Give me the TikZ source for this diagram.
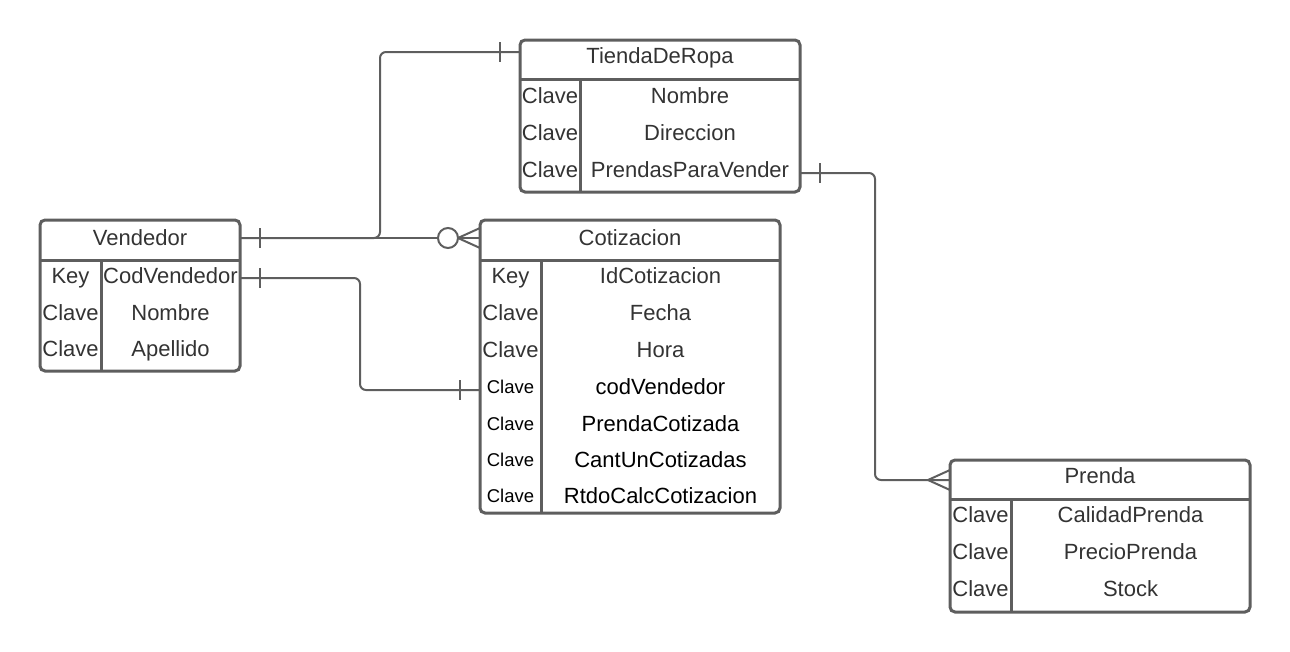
\documentclass[tikz,border=0pt]{standalone}
\usepackage{fontspec}
\setmainfont{Liberation Sans}
\definecolor{erline}{RGB}{94,94,94}
\definecolor{ertext}{RGB}{51,51,51}

\begin{document}
\begin{tikzpicture}[
    x=1pt, y=-1pt,
    tbl/.style={draw=erline, line width=3pt, rounded corners=5pt, inner sep=0pt, outer sep=0pt},
    sep/.style={draw=erline, line width=3pt},
    conn/.style={draw=erline, line width=2pt, rounded corners=6pt},
    txt/.style={text=ertext, font=\fontsize{22}{26}\selectfont, inner sep=0pt, text height=15.75pt, text depth=0pt},
    dtxt/.style={txt, text=black},
    keysm/.style={txt, text=black, font=\fontsize{18.5}{22}\selectfont, text height=13.2pt}
]
\useasboundingbox (0,0) rectangle (1290,651);

% TiendaDeRopa
\node[tbl, minimum width=280pt, minimum height=152pt] (tienda) at (660,116) {};
\draw[sep] ([yshift=-39pt]tienda.north west) -- ([yshift=-39pt]tienda.north east);
\draw[sep] ([xshift=60pt,yshift=-39pt]tienda.north west) -- ([xshift=60pt]tienda.south west);
\node[txt] (tiendaT) at (660,56) {TiendaDeRopa};
\node[txt] (tiendaK1) at (550,96) {Clave};
\node[txt] (tiendaK2) at (550,133) {Clave};
\node[txt] (tiendaK3) at (550,170) {Clave};
\node[txt] (tiendaF1) at (690,96) {Nombre};
\node[txt] (tiendaF2) at (690,133) {Direccion};
\node[txt] (tiendaF3) at (690,170) {PrendasParaVender};

% Vendedor
\node[tbl, minimum width=200pt, minimum height=151pt] (vend) at (140,295.5) {};
\draw[sep] ([yshift=-40pt]vend.north west) -- ([yshift=-40pt]vend.north east);
\draw[sep] ([xshift=61pt,yshift=-40pt]vend.north west) -- ([xshift=61pt]vend.south west);
\node[txt] (vendT) at (140,237.5) {Vendedor};
\node[txt] (vendK1) at (70.5,276) {Key};
\node[txt] (vendK2) at (70.5,312.5) {Clave};
\node[txt] (vendK3) at (70.5,348.5) {Clave};
\node[txt] (vendF1) at (170.5,276) {CodVendedor};
\node[txt] (vendF2) at (170.5,312.5) {Nombre};
\node[txt] (vendF3) at (170.5,348.5) {Apellido};

% Cotizacion
\node[tbl, minimum width=300pt, minimum height=293pt] (cotiz) at (630,366.5) {};
\draw[sep] ([yshift=-40pt]cotiz.north west) -- ([yshift=-40pt]cotiz.north east);
\draw[sep] ([xshift=61pt,yshift=-40pt]cotiz.north west) -- ([xshift=61pt]cotiz.south west);
\node[txt] (cotizT) at (630,237.5) {Cotizacion};
\node[txt] (cotizK1) at (510.5,276) {Key};
\node[txt] (cotizK2) at (510.5,313) {Clave};
\node[txt] (cotizK3) at (510.5,350) {Clave};
\node[keysm] (cotizK4) at (510.5,386.5) {Clave};
\node[keysm] (cotizK5) at (510.5,423.5) {Clave};
\node[keysm] (cotizK6) at (510.5,460) {Clave};
\node[keysm] (cotizK7) at (510.5,496) {Clave};
\node[txt] (cotizF1) at (660.5,276) {IdCotizacion};
\node[txt] (cotizF2) at (660.5,313) {Fecha};
\node[txt] (cotizF3) at (660.5,350) {Hora};
\node[dtxt] (cotizF4) at (660.5,386.5) {codVendedor};
\node[dtxt] (cotizF5) at (660.5,423.5) {PrendaCotizada};
\node[dtxt] (cotizF6) at (660.5,460) {CantUnCotizadas};
\node[dtxt] (cotizF7) at (660.5,496) {RtdoCalcCotizacion};

% Prenda
\node[tbl, minimum width=300pt, minimum height=152pt] (prenda) at (1100,536) {};
\draw[sep] ([yshift=-39pt]prenda.north west) -- ([yshift=-39pt]prenda.north east);
\draw[sep] ([xshift=61pt,yshift=-39pt]prenda.north west) -- ([xshift=61pt]prenda.south west);
\node[txt] (prendaT) at (1100,476) {Prenda};
\node[txt] (prendaK1) at (980.5,515) {Clave};
\node[txt] (prendaK2) at (980.5,552) {Clave};
\node[txt] (prendaK3) at (980.5,589) {Clave};
\node[txt] (prendaF1) at (1130.5,515) {CalidadPrenda};
\node[txt] (prendaF2) at (1130.5,552) {PrecioPrenda};
\node[txt] (prendaF3) at (1130.5,589) {Stock};

% Connector ends
\coordinate (vs1) at (vend.east |- 0,238);
\coordinate (ve1) at (tienda.west |- 0,52);
\coordinate (ce1) at (cotiz.west |- 0,238);
\coordinate (vs2) at (vend.east |- 0,278);
\coordinate (ve2) at (cotiz.west |- 0,390);
\coordinate (ts) at (tienda.east |- 0,173);
\coordinate (te) at (prenda.west |- 0,480);

% Vendedor - TiendaDeRopa
\draw[conn] (vs1) -- (380,238) -- (380,52) -- (ve1);
\draw[conn] ([xshift=20pt]vs1) +(0,-10) -- +(0,10);
\draw[conn] ([xshift=-20pt]ve1) +(0,-10) -- +(0,10);

% Vendedor - Cotizacion
\draw[conn] (vs1) -- (ce1);
\draw[conn, rounded corners=0pt] ([yshift=10pt]ce1) -- ([xshift=-22pt]ce1) -- ([yshift=-10pt]ce1);
\draw[conn, fill=white] ([xshift=-32pt]ce1) circle (10pt);

% CodVendedor - codVendedor
\draw[conn] (vs2) -| (360,334) |- (ve2);
\draw[conn] ([xshift=20pt]vs2) +(0,-10) -- +(0,10);
\draw[conn] ([xshift=-20pt]ve2) +(0,-10) -- +(0,10);

% TiendaDeRopa - Prenda
\draw[conn] (ts) -| (875,326) |- (te);
\draw[conn] ([xshift=20pt]ts) +(0,-10) -- +(0,10);
\draw[conn, rounded corners=0pt] ([yshift=10pt]te) -- ([xshift=-22pt]te) -- ([yshift=-10pt]te);

\end{tikzpicture}
\end{document}
